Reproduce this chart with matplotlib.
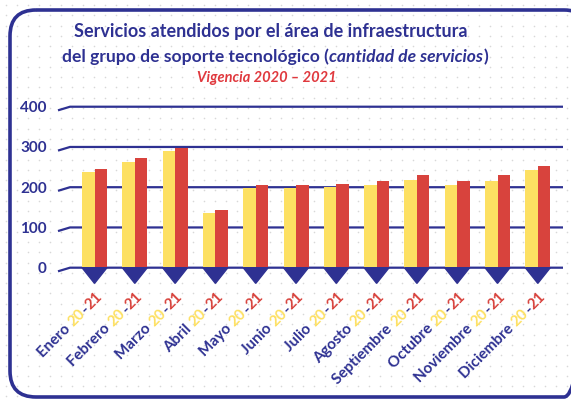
import numpy as np
import matplotlib
matplotlib.use('Agg')
import matplotlib.pyplot as plt
from matplotlib.patches import FancyBboxPatch, Polygon

# data
months = ['Enero', 'Febrero', 'Marzo', 'Abril', 'Mayo', 'Junio', 'Julio',
          'Agosto', 'Septiembre', 'Octubre', 'Noviembre', 'Diciembre']
serv2020 = [238, 262, 289, 137, 197, 197, 200, 205, 218, 205, 215, 244]
serv2021 = [246, 272, 298, 143, 206, 206, 209, 215, 231, 215, 231, 253]
yticks = [0, 100, 200, 300, 400]

navy = '#2E3192'
yellow = '#FDE062'
red = '#D8433D'
font = 'Lato'

fig = plt.figure(figsize=(5.71, 4.0), dpi=100)
W, H = 571, 400

# background layer in pixel coordinates (y down)
bg = fig.add_axes([0, 0, 1, 1], zorder=-5)
gx, gy = np.meshgrid(np.arange(6, W, 11), np.arange(5, H, 10.3))
bg.scatter(gx.ravel(), gy.ravel(), s=1.3, color='#d8d8d8', linewidths=0)
bg.add_patch(FancyBboxPatch((10, 10), 580, 387, boxstyle='round,pad=0,rounding_size=26',
                            fill=False, edgecolor=navy, linewidth=2.6, clip_on=False))
bg.set_xlim(0, W)
bg.set_ylim(H, 0)
bg.axis('off')

# chart axes placed to match pixel layout
xmin, xmax = -0.906, 11.625
ymin, ymax = -45, 410
ax = fig.add_axes([58 / W, 1 - 285.8 / H, 505 / W, (285.8 - 102.7) / H])
ax.set_xlim(xmin, xmax)
ax.set_ylim(ymin, ymax)
for s in ax.spines.values():
    s.set_visible(False)
ax.patch.set_alpha(0)

x = np.arange(len(months))
bw = 0.31
ax.bar(x - bw / 2, serv2020, bw, color=yellow, zorder=3)
ax.bar(x + bw / 2, serv2021, bw, color=red, zorder=3)

# gridlines with small hook at the left
hook = 12 / 40.3
for t in yticks:
    ax.plot([xmin, xmin + hook, xmax], [t - 9, t, t], color=navy, lw=1.6,
            zorder=2, solid_capstyle='butt', clip_on=False)

# triangles under each pair
for c in x:
    ax.add_patch(Polygon([[c - bw, 0], [c + bw, 0], [c, -39]], closed=True,
                         color=navy, zorder=4, clip_on=False))

ax.set_xticks([])
ax.set_yticks(yticks)
ax.set_yticklabels([str(t) for t in yticks], color=navy, fontsize=11,
                   fontweight='bold', family=font)
ax.tick_params(axis='y', length=0, pad=8)

fig.canvas.draw()
r = fig.canvas.get_renderer()


def width_px(s, **kw):
    t = fig.text(0, 0, s, **kw)
    w = t.get_window_extent(renderer=r).width
    t.remove()
    return w


# multicolour rotated month labels
lab = dict(fontsize=11, family=font, fontweight='bold')
cs = np.cos(np.radians(45))
for c, m in zip(x, months):
    pieces = [(m + ' ', navy), ('20', yellow), ('-', navy), ('21', red)]
    for k, (txt, col) in enumerate(pieces):
        suffix = ''.join(p[0] for p in pieces[k + 1:])
        w = width_px(suffix, **lab) * 72 / fig.dpi if suffix else 0
        ax.annotate(txt, xy=(c, 0), xycoords='data',
                    xytext=(6 - w * cs, -21.5 - w * cs), textcoords='offset points',
                    rotation=45, rotation_mode='anchor', ha='right', va='baseline',
                    color=col, annotation_clip=False, **lab)

# titles
fig.text(271 / W, 1 - 31 / H, 'Servicios atendidos por el área de infraestructura',
         ha='center', va='center', fontsize=13, color=navy, family=font, fontweight='bold')

t2 = [('del grupo de soporte tecnológico (', 'normal'),
      ('cantidad de servicios', 'italic'), (')', 'normal')]
kw2 = dict(fontsize=12.6, family=font, fontweight='bold')
widths = [width_px(s, style=st, **kw2) for s, st in t2]
x0 = 275 - sum(widths) / 2
for (s, st), w in zip(t2, widths):
    fig.text(x0 / W, 1 - 57 / H, s, ha='left', va='center', style=st,
             color=navy, **kw2)
    x0 += w

fig.text(267 / W, 1 - 78 / H, 'Vigencia 2020 – 2021', ha='center', va='center',
         fontsize=10.5, color='#E0393E', family=font, fontweight='bold', style='italic')

fig.savefig('out.png', dpi=100)
